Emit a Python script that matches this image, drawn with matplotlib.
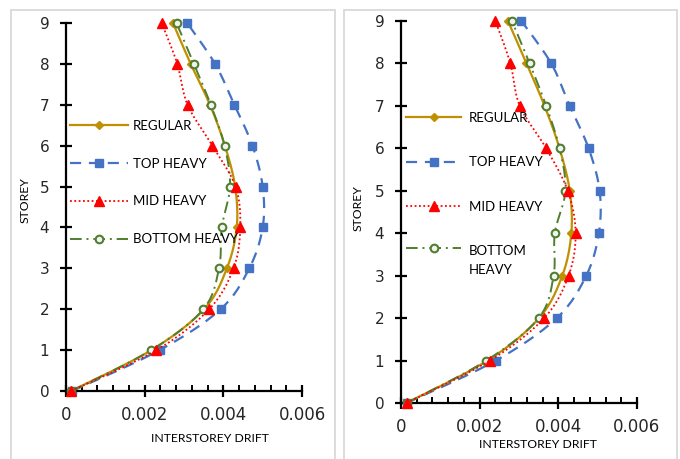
import numpy as np
import matplotlib
matplotlib.use("Agg")
import matplotlib.pyplot as plt
from matplotlib.patches import Rectangle

# storey levels and interstorey drift
storey = [0, 1, 2, 3, 4, 5, 6, 7, 8, 9]

left_regular = [0.00013, 0.00217, 0.00351, 0.00409, 0.00434, 0.00430, 0.00404, 0.00366, 0.00317, 0.00272]
left_top = [0.00015, 0.00238, 0.00393, 0.00466, 0.00500, 0.00500, 0.00474, 0.00428, 0.00379, 0.00308]
left_mid = [0.00013, 0.00230, 0.00364, 0.00426, 0.00443, 0.00431, 0.00372, 0.00309, 0.00283, 0.00243]
left_bottom = [0.00013, 0.00217, 0.00349, 0.00389, 0.00396, 0.00417, 0.00403, 0.00368, 0.00325, 0.00281]

right_regular = [0.00014, 0.00220, 0.00351, 0.00410, 0.00433, 0.00429, 0.00403, 0.00365, 0.00319, 0.00272]
right_top = [0.00014, 0.00241, 0.00396, 0.00471, 0.00503, 0.00505, 0.00477, 0.00429, 0.00382, 0.00306]
right_mid = [0.00014, 0.00226, 0.00364, 0.00426, 0.00444, 0.00424, 0.00369, 0.00302, 0.00278, 0.00240]
right_bottom = [0.00014, 0.00217, 0.00350, 0.00388, 0.00391, 0.00418, 0.00403, 0.00369, 0.00327, 0.00282]

names_left = ["REGULAR", "TOP HEAVY", "MID HEAVY", "BOTTOM HEAVY"]
names_right = ["REGULAR", "TOP HEAVY", "MID HEAVY", "BOTTOM\nHEAVY"]

xticks = [0, 0.002, 0.004, 0.006]
xticklabels = ["0", "0.002", "0.004", "0.006"]

NSEG = 16  # points per segment of the smoothed curve

# excel-like smoothed line (bezier through the points)
def smooth(x, y, n=NSEG):
    p = np.column_stack([x, y]).astype(float)
    p = np.vstack([p[0], p, p[-1]])
    out = []
    t = np.linspace(0, 1, n)[:, None]
    for i in range(1, len(p) - 2):
        p0, p1, p2, p3 = p[i - 1], p[i], p[i + 1], p[i + 2]
        c1 = p1 + (p2 - p0) / 6
        c2 = p2 - (p3 - p1) / 6
        seg = (1 - t)**3 * p1 + 3 * (1 - t)**2 * t * c1 + 3 * (1 - t) * t**2 * c2 + t**3 * p2
        out.append(seg if i == 1 else seg[1:])
    out = np.vstack(out)
    return out[:, 0], out[:, 1]

styles = [
    dict(color="#BF9000", ls="-", lw=1.6, marker="D", ms=4.5, mfc="#BF9000", mec="#BF9000", zorder=4),
    dict(color="#4472C4", ls=(0, (5, 3.5)), lw=1.6, marker="s", ms=6, mfc="#4472C4", mec="#4472C4", zorder=2),
    dict(color="#FF0000", ls=(0, (1, 1.4)), lw=1.3, marker="^", ms=6.5, mfc="#FF0000", mec="#FF0000", zorder=5),
    dict(color="#4F7F2F", ls=(0, (6, 2.5, 1, 2.5)), lw=1.4, marker="o", ms=5.5, mfc="#F2F2F2", mec="#4F7F2F", mew=1.5, zorder=4.5),
]

def draw_panel(ax, series, names):
    for xs, name, st in zip(series, names, styles):
        sx, sy = smooth(xs, storey)
        marks = list(range(0, len(sx), NSEG - 1))
        ax.plot(sx, sy, label=name, markevery=marks, clip_on=False, **st)
    ax.set_xlim(0, 0.006)
    ax.set_ylim(0, 9)
    ax.set_xticks(xticks)
    ax.set_xticklabels(xticklabels)
    ax.set_xticks(np.arange(0, 0.0061, 0.0004), minor=True)
    ax.set_yticks(storey)
    for s in ["top", "right"]:
        ax.spines[s].set_visible(False)
    for s in ["left", "bottom"]:
        ax.spines[s].set_linewidth(1.6)
        ax.spines[s].set_color("black")
    ax.tick_params(axis="y", direction="inout", length=8, width=1.6, labelsize=11, pad=8, labelcolor="#262626")
    ax.tick_params(axis="x", which="major", direction="inout", length=8, width=1.6, labelsize=12, pad=7, labelcolor="#262626")
    ax.tick_params(axis="x", which="minor", direction="in", length=4, width=1.4)
    ax.patch.set_alpha(0)


fig = plt.figure(figsize=(6.8, 4.59), dpi=100)

# grey frames around the two charts
fig.add_artist(Rectangle((11 / 680, -0.05), 324 / 680, 1.028, transform=fig.transFigure,
                         fill=False, ec="#D9D9D9", lw=1.3))
fig.add_artist(Rectangle((344 / 680, -0.05), 333 / 680, 1.028, transform=fig.transFigure,
                         fill=False, ec="#D9D9D9", lw=1.3))

ax1 = fig.add_axes([66 / 680, 1 - 391 / 459, 236 / 680, 368 / 459])
ax2 = fig.add_axes([401 / 680, 1 - 403 / 459, 236 / 680, 382 / 459])

draw_panel(ax1, [left_regular, left_top, left_mid, left_bottom], names_left)
draw_panel(ax2, [right_regular, right_top, right_mid, right_bottom], names_right)

lab = dict(fontsize=8.8, family="Lato", color="black")
fig.text(210 / 680, 1 - 439 / 459, "INTERSTOREY DRIFT", ha="center", va="center", **lab)
fig.text(25 / 680, 1 - 200 / 459, "STOREY", ha="center", va="center", rotation=90, **lab)
fig.text(538 / 680, 1 - 445 / 459, "INTERSTOREY DRIFT", ha="center", va="center", **lab)
fig.text(358 / 680, 1 - 208 / 459, "STOREY", ha="center", va="center", rotation=90, **lab)

leg1 = ax1.legend(loc="upper left", bbox_to_anchor=(70 / 680, 1 - 120 / 459), bbox_transform=fig.transFigure,
                  frameon=False, handlelength=4.4, handletextpad=0.35, labelspacing=1.95, borderpad=0,
                  borderaxespad=0, prop=dict(family="Lato", size=9.5))
leg2 = ax2.legend(loc="upper left", bbox_to_anchor=(406 / 680, 1 - 112 / 459), bbox_transform=fig.transFigure,
                  frameon=False, handlelength=4.2, handletextpad=0.55, labelspacing=2.45, borderpad=0,
                  borderaxespad=0, prop=dict(family="Lato", size=9.5, stretch="normal"))
for t in leg2.get_texts():
    t.set_linespacing(1.7)
# put the wrapped entry's sample level with its first line
h = leg2.legend_handles[3]
h.set_ydata(np.asarray(h.get_ydata()) + 9.5)

fig.savefig("out.png", dpi=100)
